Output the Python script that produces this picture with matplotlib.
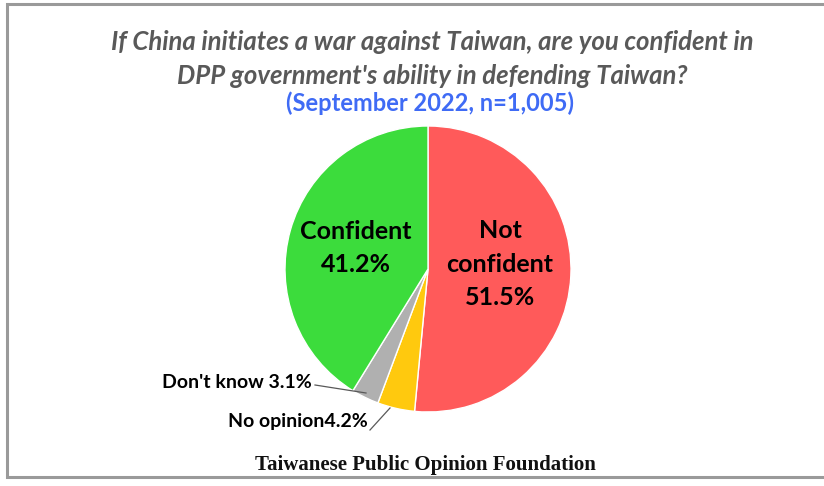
import matplotlib.pyplot as plt

# ===== データ =====
labels = ["Not\nconfident", "No opinion", "Don't know", "Confident"]
values = [51.5, 4.2, 3.1, 41.2]
colors = ["#FF5A5A", "#FFC90E", "#B0B0B0", "#3CDC3C"]

title = "If China initiates a war against Taiwan, are you confident in\nDPP government's ability in defending Taiwan?"
subtitle = "(September 2022, n=1,005)"
footer = "Taiwanese Public Opinion Foundation"

W, H = 824, 486
fig = plt.figure(figsize=(W / 100, H / 100), dpi=100)
ax = fig.add_axes([0, 0, 1, 1])

# ===== 円グラフ =====
cx, cy, r = 428, H - 269, 143
ax.pie(values, colors=colors, startangle=90, counterclock=False,
       center=(cx, cy), radius=r, frame=True,
       wedgeprops=dict(edgecolor="white", linewidth=1))
ax.set_xlim(0, W)
ax.set_ylim(0, H)
ax.axis("off")

# 枠線（右側は切れている）
ax.plot([W + 5, 7, 7, W + 5], [H - 4, H - 4, H - 477, H - 477],
        color="#9a9a9a", lw=2.2, solid_joinstyle="miter")

font = "Lato"
ax.text(500, H - 264, f"{labels[0]}\n{values[0]}%", ha="center", va="center",
        fontsize=18, fontweight="bold", family=font, linespacing=1.55)
ax.text(356, H - 248, f"{labels[3]}\n{values[3]}%", ha="center", va="center",
        fontsize=18, fontweight="bold", family=font, linespacing=1.55)

# 小さいスライスのラベル
ax.text(312, H - 383, f"{labels[2]} {values[2]}%", ha="right", va="center",
        fontsize=14, fontweight="bold", family=font)
ax.plot([315, 366], [H - 385, H - 393], color="#595959", lw=0.9)
ax.text(368, H - 421, f"{labels[1]}{values[1]}%", ha="right", va="center",
        fontsize=14, fontweight="bold", family=font)
ax.plot([370, 390], [H - 430, H - 408], color="#595959", lw=0.9)

# ===== タイトル =====
ax.text(432, H - 59, title, ha="center", va="center", fontsize=18.5,
        fontstyle="italic", fontweight="bold", color="#595959",
        family=font, linespacing=1.5)
ax.text(430, H - 103, subtitle, ha="center", va="center", fontsize=17,
        fontweight="bold", color="#3F6BF5", family=font)
ax.text(425, H - 465, footer, ha="center", va="center", fontsize=15,
        fontweight="bold", color="#111111", family="Liberation Serif")

fig.savefig("out.png", dpi=100)
